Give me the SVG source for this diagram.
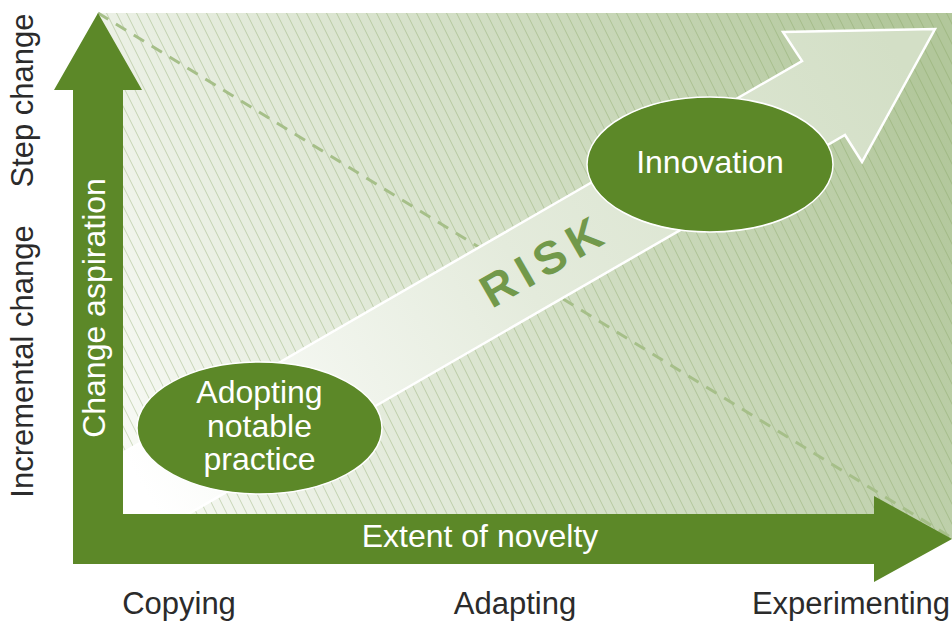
<svg xmlns="http://www.w3.org/2000/svg" width="952" height="624" viewBox="0 0 952 624">
  <defs>
    <linearGradient id="bgGrad" gradientUnits="userSpaceOnUse" x1="100" y1="500" x2="952" y2="150">
      <stop offset="0" stop-color="#fbfcf9"/>
      <stop offset="0.25" stop-color="#e8eee1"/>
      <stop offset="0.55" stop-color="#d3dfc6"/>
      <stop offset="1" stop-color="#b2c79b"/>
    </linearGradient>
    <linearGradient id="bandGrad" gradientUnits="userSpaceOnUse" x1="150" y1="500" x2="900" y2="60">
      <stop offset="0" stop-color="#ffffff"/>
      <stop offset="0.5" stop-color="#e4ebdc"/>
      <stop offset="1" stop-color="#d3dfc6"/>
    </linearGradient>
    <pattern id="hatch" patternUnits="userSpaceOnUse" width="10" height="20">
      <path d="M-1,-2 L11,22 M-11,-2 L1,22 M9,-2 L21,22" stroke="#7c9e58" stroke-opacity="0.5" stroke-width="0.75" fill="none"/>
    </pattern>
    <style>
      .green { fill: #5c8828; }
      .node { fill: #5c8828; stroke: #ffffff; stroke-width: 1.5; }
      .wt { font-family: "Liberation Sans", Arial, sans-serif; fill: #ffffff; font-size: 32px; text-anchor: middle; }
      .lbl { font-family: "Liberation Sans", Arial, sans-serif; fill: #2b2b2b; font-size: 31px; text-anchor: middle; }
      .risk { font-family: "Liberation Sans", Arial, sans-serif; fill: #72994b; font-size: 46px; font-weight: bold; text-anchor: middle; }
    </style>
  </defs>

  <g id="background">
    <rect x="98" y="13" width="854" height="526" fill="url(#bgGrad)"/>
    <rect x="98" y="13" width="854" height="526" fill="url(#hatch)"/>
    <line x1="98" y1="13" x2="952" y2="538" stroke="#a6bf89" stroke-width="3" stroke-dasharray="12 9"/>
  </g>

  <g id="connectors">
    <polygon id="risk-arrow" points="100,466 802,61 783,32 935,29 862,162 845,135 100,565" fill="url(#bandGrad)" stroke="#ffffff" stroke-width="2.5" stroke-linejoin="miter"/>
    <text class="risk" transform="translate(549,276) rotate(-30)" x="0" y="0" textLength="132" lengthAdjust="spacing">RISK</text>
  </g>

  <g id="node-adopting">
    <ellipse class="node" cx="259.5" cy="428" rx="122.5" ry="66"/>
    <text class="wt" x="259.5" y="403">Adopting</text>
    <text class="wt" x="259.5" y="437">notable</text>
    <text class="wt" x="259.5" y="470">practice</text>
  </g>

  <g id="node-innovation">
    <ellipse class="node" cx="710" cy="164.5" rx="123" ry="67.5"/>
    <text class="wt" x="710" y="173">Innovation</text>
  </g>

  <g id="axes">
    <polygon class="green" points="98,13 142,90 123,90 123,514 874,514 874,496 952,539 874,582 874,564 73,564 73,90 54,90"/>
    <text class="wt" transform="translate(105,308) rotate(-90)" x="0" y="0">Change aspiration</text>
    <text class="wt" x="480" y="547">Extent of novelty</text>
  </g>

  <g id="labels">
    <text class="lbl" transform="translate(33,100.5) rotate(-90)" x="0" y="0">Step change</text>
    <text class="lbl" transform="translate(33,361.5) rotate(-90)" x="0" y="0">Incremental change</text>
    <text class="lbl" x="179" y="614">Copying</text>
    <text class="lbl" x="515" y="614">Adapting</text>
    <text class="lbl" x="851" y="614">Experimenting</text>
  </g>
</svg>
